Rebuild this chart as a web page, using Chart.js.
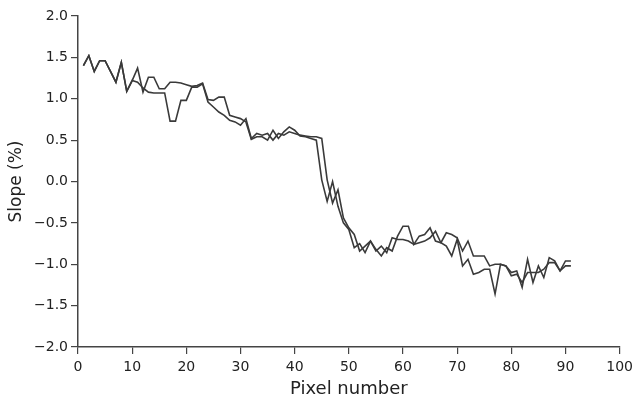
<!DOCTYPE html>
<html>
<head>
<meta charset="utf-8">
<script src="https://cdn.jsdelivr.net/npm/chart.js@4/dist/chart.umd.min.js"></script>
<style>
  html, body { margin: 0; padding: 0; background: #fff; }
  #wrap { width: 638px; height: 400px; position: relative; }
</style>
</head>
<body>
<div id="wrap"><canvas id="slopeChart"></canvas></div>
<script>
// pixel positions along the profile
const pixels = [
  1, 2, 3, 4, 5, 6, 7, 8, 9, 10,
  11, 12, 13, 14, 15, 16, 17, 18, 19, 20,
  21, 22, 23, 24, 25, 26, 27, 28, 29, 30,
  31, 32, 33, 34, 35, 36, 37, 38, 39, 40,
  41, 42, 43, 44, 45, 46, 47, 48, 49, 50,
  51, 52, 53, 54, 55, 56, 57, 58, 59, 60,
  61, 62, 63, 64, 65, 66, 67, 68, 69, 70,
  71, 72, 73, 74, 75, 76, 77, 78, 79, 80,
  81, 82, 83, 84, 85, 86, 87, 88, 89, 90,
  91
];

// first profile
const slopeA = [
  1.40, 1.52, 1.33, 1.46, 1.46, 1.33, 1.20, 1.44, 1.09, 1.22,
  1.37, 1.08, 1.26, 1.26, 1.12, 1.12, 1.20, 1.20, 1.19, 1.17,
  1.15, 1.16, 1.19, 0.99, 0.98, 1.02, 1.02, 0.80, 0.78, 0.76,
  0.72, 0.51, 0.54, 0.54, 0.50, 0.62, 0.52, 0.60, 0.66, 0.62,
  0.55, 0.54, 0.52, 0.50, 0.02, -0.24, 0.00, -0.30, -0.50, -0.58,
  -0.80, -0.75, -0.86, -0.72, -0.82, -0.90, -0.80, -0.84, -0.66, -0.54,
  -0.54, -0.76, -0.66, -0.64, -0.56, -0.72, -0.74, -0.62, -0.64, -0.68,
  -0.84, -0.72, -0.90, -0.90, -0.90, -1.02, -1.00, -1.00, -1.02, -1.10,
  -1.08, -1.28, -0.94, -1.22, -1.02, -1.16, -0.92, -0.96, -1.08, -0.96,
  -0.96
];

// second profile
const slopeB = [
  1.40, 1.52, 1.33, 1.46, 1.46, 1.33, 1.20, 1.44, 1.09, 1.22,
  1.20, 1.13, 1.08, 1.07, 1.07, 1.07, 0.73, 0.73, 0.98, 0.98,
  1.14, 1.14, 1.18, 0.96, 0.90, 0.84, 0.80, 0.74, 0.72, 0.68,
  0.76, 0.52, 0.58, 0.56, 0.58, 0.50, 0.58, 0.56, 0.60, 0.58,
  0.56, 0.55, 0.54, 0.54, 0.52, 0.02, -0.26, -0.10, -0.44, -0.56,
  -0.64, -0.84, -0.78, -0.72, -0.84, -0.78, -0.86, -0.68, -0.70, -0.70,
  -0.72, -0.76, -0.74, -0.72, -0.68, -0.60, -0.74, -0.78, -0.90, -0.70,
  -1.02, -0.94, -1.12, -1.10, -1.06, -1.06, -1.36, -1.00, -1.02, -1.14,
  -1.12, -1.22, -1.10, -1.10, -1.10, -1.06, -0.98, -0.98, -1.08, -1.02,
  -1.02
];

const xTicks = [0, 10, 20, 30, 40, 50, 60, 70, 80, 90, 100];
const yTicks = [-2.0, -1.5, -1.0, -0.5, 0.0, 0.5, 1.0, 1.5, 2.0];

const inkColor = "#3a3a3a";
const fontFamily = "'DejaVu Sans', sans-serif";

function toPoints(ys) {
  return pixels.map((p, i) => ({ x: p, y: ys[i] }));
}

function fmtTick(v) {
  // real minus sign like the original plot
  return v < 0 ? "\u2212" + Math.abs(v).toFixed(1) : v.toFixed(1);
}

const ctx = document.getElementById("slopeChart").getContext("2d");
new Chart(ctx, {
  type: "line",
  data: {
    datasets: [
      { label: "A", data: toPoints(slopeA), borderColor: inkColor, borderWidth: 1.6, pointRadius: 0, tension: 0, fill: false },
      { label: "B", data: toPoints(slopeB), borderColor: inkColor, borderWidth: 1.6, pointRadius: 0, tension: 0, fill: false }
    ]
  },
  options: {
    responsive: true,
    maintainAspectRatio: false,
    animation: false,
    layout: { padding: { top: 16, right: 17, bottom: 0, left: 0 } },
    plugins: { legend: { display: false }, tooltip: { enabled: false } },
    scales: {
      x: {
        type: "linear",
        min: 0,
        max: 100,
        afterBuildTicks: s => { s.ticks = xTicks.map(v => ({ value: v })); },
        afterFit: s => { s.height = 53; },
        grid: { drawOnChartArea: false, drawTicks: true, tickLength: 7, color: "#444", lineWidth: 1.2 },
        border: { display: true, color: "#444", width: 1.5 },
        ticks: { color: "#222", padding: 5, font: { family: fontFamily, size: 14 } },
        title: { display: true, text: "Pixel number", color: "#222", padding: { top: 0, bottom: 0 }, font: { family: fontFamily, size: 18 } }
      },
      y: {
        min: -2,
        max: 2,
        afterBuildTicks: s => { s.ticks = yTicks.map(v => ({ value: v })); },
        afterFit: s => { s.width = 78; },
        grid: { drawOnChartArea: false, drawTicks: true, tickLength: 7, color: "#444", lineWidth: 1.2 },
        border: { display: true, color: "#444", width: 1.5 },
        ticks: { color: "#222", padding: 3, font: { family: fontFamily, size: 14 }, callback: v => fmtTick(v) },
        title: { display: true, text: "Slope (%)", color: "#222", padding: { top: 6, bottom: 0 }, font: { family: fontFamily, size: 17 } }
      }
    }
  }
});
</script>
</body>
</html>
